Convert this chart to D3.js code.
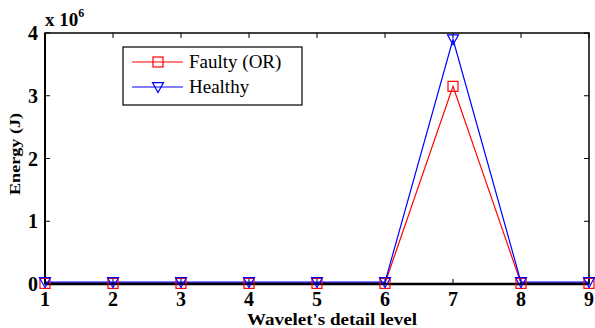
<!DOCTYPE html>
<html>
<head>
<meta charset="utf-8">
<script src="https://cdn.jsdelivr.net/npm/d3@7"></script>
<style>
  body { margin: 0; background: #fff; }
  text { font-family: "Liberation Serif", "Times New Roman", serif; }
</style>
</head>
<body>
<svg id="chart" width="595" height="328"></svg>
<script>
// wavelet detail levels and energy (in units of 1e6 J)
var levels = [1, 2, 3, 4, 5, 6, 7, 8, 9];
var faulty = [0.01, 0.01, 0.01, 0.01, 0.01, 0.01, 3.15, 0.01, 0.01];
var healthy = [0.03, 0.03, 0.03, 0.03, 0.03, 0.03, 3.9, 0.03, 0.03];
var yTicks = [0, 1, 2, 3, 4];
var seriesNames = ["Faulty (OR)", "Healthy"];
var seriesColors = ["#ff0000", "#0000ff"];

var svg = d3.select("#chart");
var plotL = 45, plotR = 589, plotT = 33, plotB = 284;

var x = d3.scaleLinear().domain([1, 9]).range([plotL, plotR]);
var y = d3.scaleLinear().domain([0, 4]).range([plotB, plotT]);

// inward ticks on all four sides (matlab box style)
var tickLen = 5;
var g = svg.append("g").attr("stroke", "#000").attr("stroke-width", 1);
levels.forEach(function(d) {
    g.append("line").attr("x1", x(d)).attr("x2", x(d)).attr("y1", plotB).attr("y2", plotB - tickLen);
    g.append("line").attr("x1", x(d)).attr("x2", x(d)).attr("y1", plotT).attr("y2", plotT + tickLen);
});
yTicks.forEach(function(d) {
    g.append("line").attr("x1", plotL).attr("x2", plotL + tickLen).attr("y1", y(d)).attr("y2", y(d));
    g.append("line").attr("x1", plotR).attr("x2", plotR - tickLen).attr("y1", y(d)).attr("y2", y(d));
});

// series
var series = [faulty, healthy];
var line = d3.line().x(function(d, i) { return x(levels[i]); }).y(function(d) { return y(d); });
series.forEach(function(s, k) {
    svg.append("path").datum(s)
        .attr("d", line)
        .attr("fill", "none")
        .attr("stroke", seriesColors[k])
        .attr("stroke-width", 1.2);
});

// frame
svg.append("rect")
    .attr("x", plotL).attr("y", plotT)
    .attr("width", plotR - plotL).attr("height", plotB - plotT)
    .attr("fill", "none").attr("stroke", "#000").attr("stroke-width", 1.5);
svg.append("line").attr("x1", plotL).attr("x2", plotR).attr("y1", plotB).attr("y2", plotB)
    .attr("stroke", "#000").attr("stroke-width", 2.5);
svg.append("line").attr("x1", plotL).attr("x2", plotL).attr("y1", plotT).attr("y2", plotB)
    .attr("stroke", "#000").attr("stroke-width", 2);

function square(g, cx, cy, color) {
    g.append("rect").attr("x", cx - 5).attr("y", cy - 5).attr("width", 10).attr("height", 10)
        .attr("fill", "none").attr("stroke", color).attr("stroke-width", 1.2);
}
function triDown(g, cx, cy, color) {
    var s = 5.5;
    g.append("path")
        .attr("d", "M" + (cx - s) + "," + (cy - s * 0.8) + "L" + (cx + s) + "," + (cy - s * 0.8) + "L" + cx + "," + (cy + s) + "Z")
        .attr("fill", "none").attr("stroke", color).attr("stroke-width", 1.2);
}
var markers = [square, triDown];
series.forEach(function(s, k) {
    s.forEach(function(d, i) {
        markers[k](svg, x(levels[i]), y(d), seriesColors[k]);
    });
});

// tick labels
levels.forEach(function(d) {
    svg.append("text").attr("x", x(d)).attr("y", 306)
        .attr("text-anchor", "middle").attr("font-size", 20).attr("font-weight", "bold").text(d);
});
yTicks.forEach(function(d) {
    svg.append("text").attr("x", 38).attr("y", y(d) + 7)
        .attr("text-anchor", "end").attr("font-size", 20).attr("font-weight", "bold").text(d);
});

// exponent label
var ex = svg.append("text").attr("x", 45).attr("y", 26).attr("font-size", 19).attr("font-weight", "bold");
ex.append("tspan").text("x 10");
ex.append("tspan").attr("dy", -9).attr("font-size", 12).text("6");

// axis titles (reference text is stretched horizontally)
svg.append("text").attr("x", 247).attr("y", 325)
    .attr("font-size", 16).attr("font-weight", "bold")
    .attr("textLength", 170).attr("lengthAdjust", "spacingAndGlyphs")
    .text("Wavelet's detail level");
svg.append("text").attr("transform", "translate(20,195) rotate(-90)")
    .attr("font-size", 15).attr("font-weight", "bold")
    .attr("textLength", 82).attr("lengthAdjust", "spacingAndGlyphs")
    .text("Energy (J)");

// legend
var lg = svg.append("g");
lg.append("rect").attr("x", 123).attr("y", 47).attr("width", 179).attr("height", 58)
    .attr("fill", "#fff").attr("stroke", "#000").attr("stroke-width", 1.2);
seriesNames.forEach(function(name, k) {
    var ly = 62 + k * 25;
    lg.append("line").attr("x1", 132).attr("x2", 183).attr("y1", ly).attr("y2", ly)
        .attr("stroke", seriesColors[k]).attr("stroke-width", 1.2);
    markers[k](lg, 158, ly, seriesColors[k]);
    lg.append("text").attr("x", 189).attr("y", ly + 6).attr("font-size", 19).text(name);
});
</script>
</body>
</html>
